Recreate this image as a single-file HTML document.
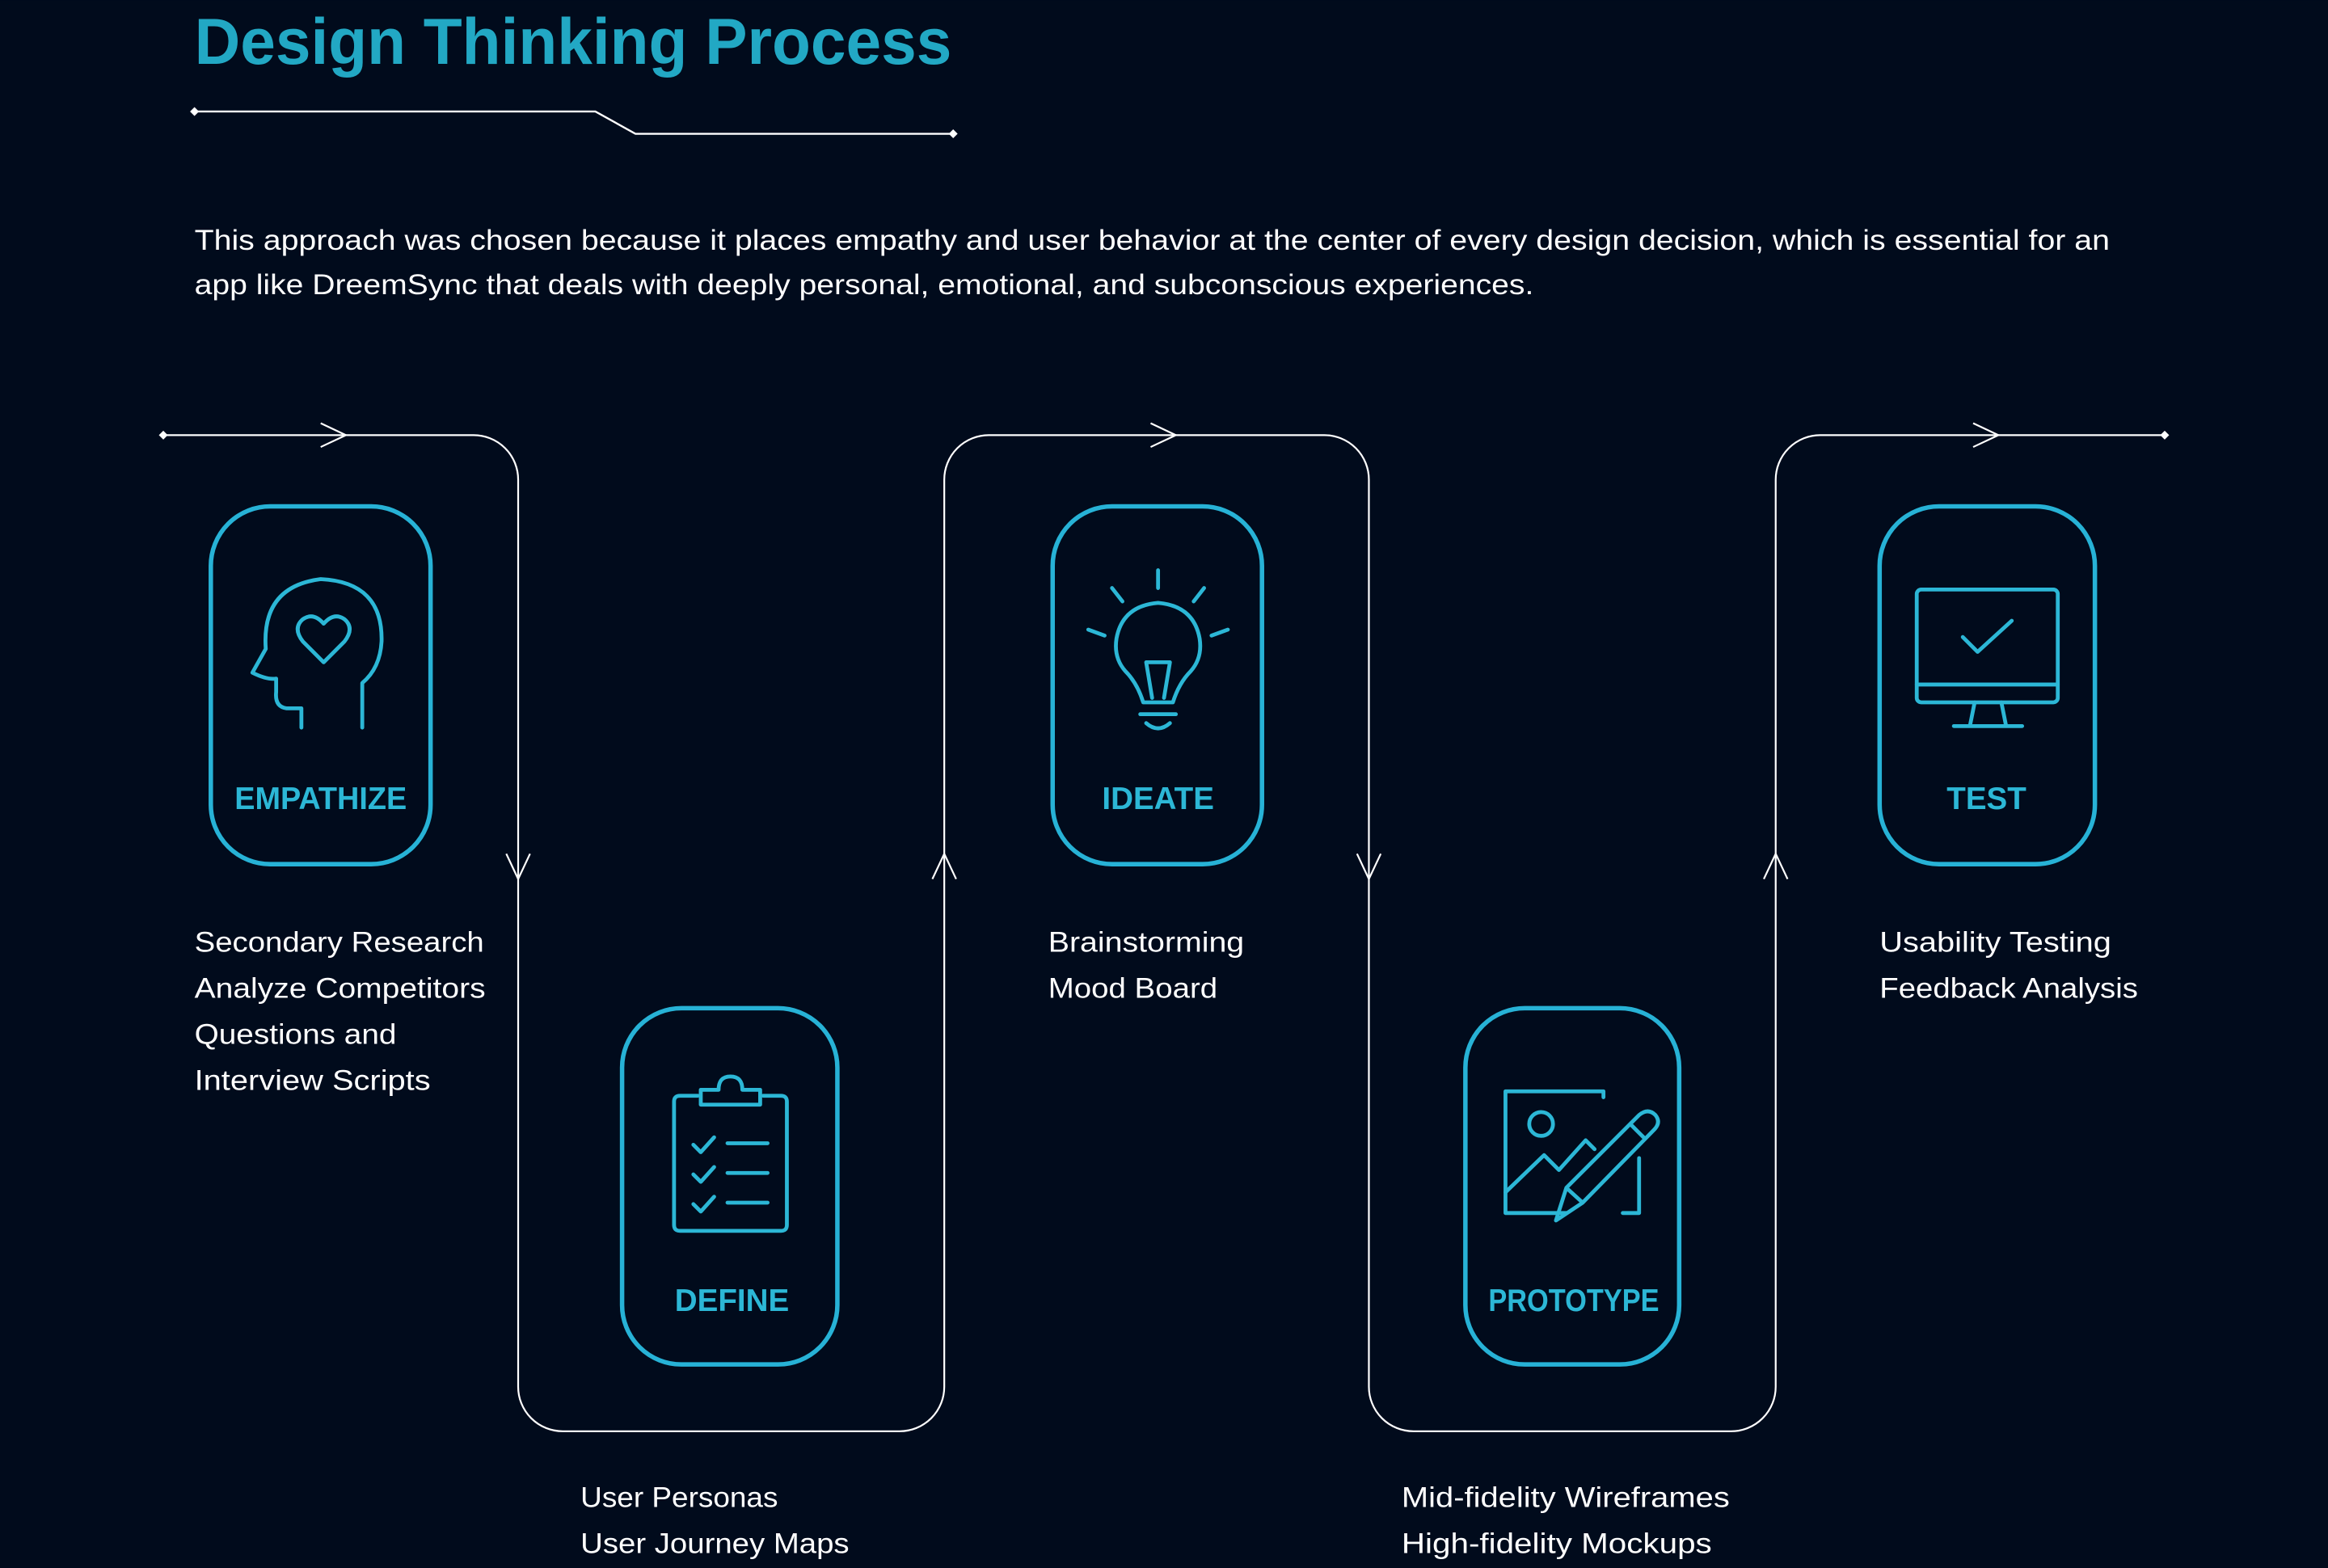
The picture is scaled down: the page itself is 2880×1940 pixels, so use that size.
<!DOCTYPE html>
<html><head><meta charset="utf-8"><style>
html,body{margin:0;padding:0;background:#010b1c;}
svg{display:block;}
</style></head><body>
<svg width="2880" height="1940" viewBox="0 0 1568 1056" xmlns="http://www.w3.org/2000/svg">
<rect width="1568" height="1056" fill="#010b1c"/>
<text x="131" y="43" font-family="Liberation Sans, sans-serif" font-weight="bold" font-size="44" fill="#22a8c4" textLength="510" lengthAdjust="spacingAndGlyphs">Design Thinking Process</text>
<g stroke="#fff" stroke-width="1.3" fill="none">
<polyline points="131,75 401,75 428,90 642,90"/>
</g>
<g fill="#fff">
<polygon points="128,75 131,72 134,75 131,78"/>
<polygon points="639,90 642,87 645,90 642,93"/>
<polygon points="107,293 110,290 113,293 110,296"/>
<polygon points="1455,293 1458,290 1461,293 1458,296"/>
</g>
<g font-family="Liberation Sans, sans-serif" font-size="19" fill="#fff">
<text x="131" y="168" textLength="1290" lengthAdjust="spacingAndGlyphs">This approach was chosen because it places empathy and user behavior at the center of every design decision, which is essential for an</text>
<text x="131" y="198" textLength="902" lengthAdjust="spacingAndGlyphs">app like DreemSync that deals with deeply personal, emotional, and subconscious experiences.</text>
</g>
<path d="M110,293 H319 A30,30 0 0 1 349,323 V934 A30,30 0 0 0 379,964 H606 A30,30 0 0 0 636,934 V323 A30,30 0 0 1 666,293 H892 A30,30 0 0 1 922,323 V934 A30,30 0 0 0 952,964 H1166 A30,30 0 0 0 1196,934 V323 A30,30 0 0 1 1226,293 H1458" stroke="#fff" stroke-width="1.2" fill="none"/>
<g stroke="#fff" stroke-width="1.2" fill="none">
<polyline points="216,285 233,293 216,301"/>
<polyline points="775,285 792,293 775,301"/>
<polyline points="1329,285 1346,293 1329,301"/>
<polyline points="341,575 349,592 357,575"/>
<polyline points="914,575 922,592 930,575"/>
<polyline points="628,592 636,575 644,592"/>
<polyline points="1188,592 1196,575 1204,592"/>
</g>
<g stroke="#27b2d6" stroke-width="3" fill="none">
<rect x="142" y="341" width="148" height="241" rx="40"/>
<rect x="709" y="341" width="141" height="241" rx="40"/>
<rect x="1266" y="341" width="145" height="241" rx="40"/>
<rect x="419" y="679" width="145" height="240" rx="40"/>
<rect x="987" y="679" width="144" height="240" rx="40"/>
</g>
<g font-family="Liberation Sans, sans-serif" font-weight="bold" font-size="21" fill="#2cb7d6" text-anchor="middle">
<text x="216" y="545" textLength="116" lengthAdjust="spacingAndGlyphs">EMPATHIZE</text>
<text x="780" y="545">IDEATE</text>
<text x="1338" y="545">TEST</text>
<text x="493" y="883">DEFINE</text>
<text x="1060" y="883" textLength="115" lengthAdjust="spacingAndGlyphs">PROTOTYPE</text>
</g>
<g stroke="#2cb7d6" stroke-width="2.6" fill="none" stroke-linecap="round" stroke-linejoin="round">
<path d="M203,490 V477 H193 Q185,476 186,466 V457 Q180,458 170,453 L179,437 Q176,395 216,390 Q258,392 257,432 Q256,450 244,460 V490"/>
<path d="M218,446 L204,432 Q197,423 204,417 Q211,412 218,420 Q225,412 232,417 Q239,423 232,432 Z"/>
<path d="M770,473 Q766,460 758,452 Q750,443 752,430 Q756,408 780,406 Q804,408 808,430 Q810,443 802,452 Q794,460 790,473 Z"/>
<path d="M772,446 L776,470 M788,446 L784,470 M772,446 H788"/>
<path d="M768,481 H792 M772,487 Q780,494 788,487"/>
<path d="M780,384 V396 M749,396 L756,405 M811,396 L804,405 M733,424 L744,428 M827,424 L816,428"/>
<rect x="1291" y="397" width="95" height="76" rx="3"/>
<path d="M1291,461 H1386 M1330,473 L1327,488 M1348,473 L1351,488 M1316,489 H1362"/>
<path d="M1322,429 L1332,439 L1355,418"/>
<path d="M470,738 H458 Q454,738 454,742 V825 Q454,829 458,829 H526 Q530,829 530,825 V742 Q530,738 526,738 H514"/>
<path d="M472,744 V734 H484 Q484,725 492,725 Q500,725 500,734 H512 V744 Z"/>
<path d="M467,771 L472,776 L481,766 M490,770 H517 M467,791 L472,796 L481,786 M490,790 H517 M467,811 L472,816 L481,806 M490,810 H517"/>
<path d="M1055,817 H1014 V735 H1080 V739 M1104,780 V817 H1093"/>
<circle cx="1038" cy="757" r="8"/>
<path d="M1014,803 L1040,778 L1050,788 L1068,768 L1074,774"/>
<path d="M1048,822 L1055,800 L1104,751 Q1110,746 1115,751 Q1119,756 1114,761 L1066,810 Z M1055,800 L1066,810 M1098,757 L1108,767"/>
</g>
<g font-family="Liberation Sans, sans-serif" font-size="19" fill="#fff">
<text x="131" y="641" textLength="195" lengthAdjust="spacingAndGlyphs">Secondary Research</text>
<text x="131" y="672" textLength="196" lengthAdjust="spacingAndGlyphs">Analyze Competitors</text>
<text x="131" y="703" textLength="136" lengthAdjust="spacingAndGlyphs">Questions and</text>
<text x="131" y="734" textLength="159" lengthAdjust="spacingAndGlyphs">Interview Scripts</text>
<text x="706" y="641" textLength="132" lengthAdjust="spacingAndGlyphs">Brainstorming</text>
<text x="706" y="672" textLength="114" lengthAdjust="spacingAndGlyphs">Mood Board</text>
<text x="1266" y="641" textLength="156" lengthAdjust="spacingAndGlyphs">Usability Testing</text>
<text x="1266" y="672" textLength="174" lengthAdjust="spacingAndGlyphs">Feedback Analysis</text>
<text x="391" y="1015" textLength="133" lengthAdjust="spacingAndGlyphs">User Personas</text>
<text x="391" y="1046" textLength="181" lengthAdjust="spacingAndGlyphs">User Journey Maps</text>
<text x="944" y="1015" textLength="221" lengthAdjust="spacingAndGlyphs">Mid-fidelity Wireframes</text>
<text x="944" y="1046" textLength="209" lengthAdjust="spacingAndGlyphs">High-fidelity Mockups</text>
</g>
</svg>
</body></html>
